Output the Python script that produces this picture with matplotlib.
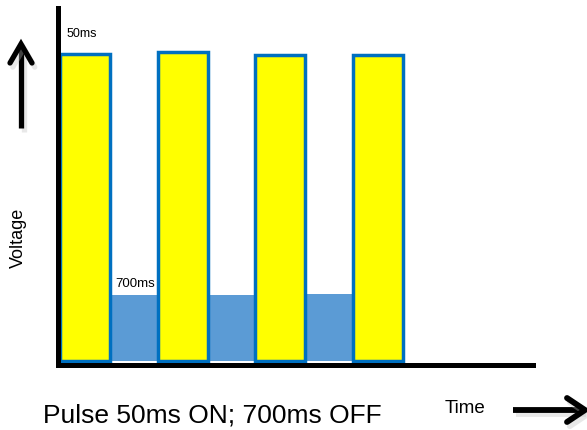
import matplotlib
matplotlib.use('Agg')
import matplotlib.pyplot as plt
import matplotlib.patheffects as pe

plt.rcParams['font.family'] = ['Liberation Sans', 'DejaVu Sans']

# Pulsos ON (groc) i nivells OFF (blau) entre pulsos
pulse_pos = [0, 1, 2, 3]
pulse_level = [1.0, 1.005, 0.995, 0.995]
off_pos = [0.5, 1.5, 2.5]
off_level = [0.215, 0.215, 0.218]

W, H = 587, 430
fig = plt.figure(figsize=(W / 100, H / 100), dpi=100)

# Eixos principals (coordenades en píxels de la imatge de referència)
x0, x1 = 57.5, 533
y_axis, y_top = 364.5, 8
ax = fig.add_axes([x0 / W, (H - y_axis) / H, (x1 - x0) / W, (y_axis - y_top) / H])

px_x = 97.7    # píxels per període
px_y = 307.5   # píxels per unitat de tensió
zero_x, zero_y = 85, 361
ax.set_xlim((x0 - zero_x) / px_x, (x1 - zero_x) / px_x)
ax.set_ylim((zero_y - y_axis) / px_y, (zero_y - y_top) / px_y)

ax.bar(off_pos, off_level, width=0.5, color='#5B9BD5', linewidth=0, zorder=2)
ax.bar(pulse_pos, pulse_level, width=0.51, color='#FFFF00',
       edgecolor='#0070C0', linewidth=2.5, zorder=3)

for s in ['top', 'right']:
    ax.spines[s].set_visible(False)
shadow = [pe.SimplePatchShadow(offset=(2, -3), shadow_rgbFace='0.75', alpha=0.35), pe.Normal()]
for s in ['left', 'bottom']:
    ax.spines[s].set_linewidth(3.6)
    ax.spines[s].set_color('black')
    ax.spines[s].set_capstyle('projecting')
    ax.spines[s].set_path_effects(shadow)
    ax.spines[s].set_zorder(4)
ax.set_xticks([])
ax.set_yticks([])
ax.patch.set_alpha(0)

# Capa de text i fletxes
ov = fig.add_axes([0, 0, 1, 1])
ov.set_xlim(0, W)
ov.set_ylim(H, 0)
ov.axis('off')

lshadow = [pe.SimpleLineShadow(offset=(2, -3), shadow_color='0.75', alpha=0.35), pe.Normal()]
# fletxa cap amunt
ov.plot([21, 21], [128, 46], color='black', lw=3.8, solid_capstyle='butt', path_effects=lshadow)
ov.plot([10, 21, 32], [63, 44, 63], color='black', lw=3.8,
        solid_joinstyle='miter', solid_capstyle='round', path_effects=lshadow)
# fletxa cap a la dreta
ov.plot([513, 583], [410, 410], color='black', lw=4.2, solid_capstyle='butt', path_effects=lshadow)
ov.plot([567, 585, 567], [398, 410, 422], color='black', lw=4.2,
        solid_joinstyle='miter', solid_capstyle='round', path_effects=lshadow)

ov.text(67, 37, '50ms', fontsize=9, ha='left', va='baseline')
ov.text(115, 287, '700ms', fontsize=9.5, ha='left', va='baseline')
ov.text(18, 238, 'Voltage', fontsize=13, rotation=90, ha='center', va='center')
ov.text(445, 413, 'Time', fontsize=13.5, ha='left', va='baseline')
ov.text(43, 423, 'Pulse 50ms ON; 700ms OFF', fontsize=19, ha='left', va='baseline')

fig.savefig('out.png', dpi=100)
